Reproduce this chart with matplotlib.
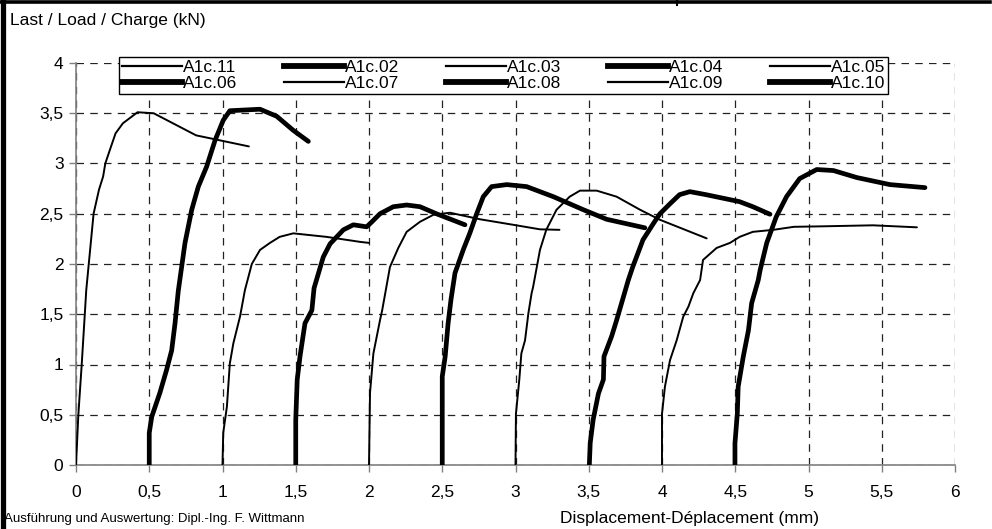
import matplotlib
matplotlib.use("Agg")
import matplotlib.pyplot as plt
from matplotlib.lines import Line2D
from matplotlib.ticker import FuncFormatter

plt.rcParams['font.family'] = ['Liberation Sans', 'DejaVu Sans']

# ---- data (displacement mm, load kN) ----
a1c11_x = [0.0, 0.016, 0.039, 0.06, 0.07, 0.12, 0.157, 0.185, 0.20, 0.23, 0.27, 0.32, 0.42, 0.53, 0.82, 1.18]
a1c11_y = [0.0, 0.50, 1.00, 1.50, 1.74, 2.50, 2.74, 2.87, 3.00, 3.13, 3.30, 3.40, 3.51, 3.50, 3.28, 3.17]

a1c02_x = [0.50, 0.50, 0.517, 0.573, 0.619, 0.653, 0.676, 0.698, 0.744, 0.79, 0.835, 0.892, 0.949, 1.005, 1.05, 1.256, 1.37, 1.483, 1.586]
a1c02_y = [0.0, 0.32, 0.48, 0.72, 0.95, 1.14, 1.41, 1.73, 2.21, 2.54, 2.77, 2.97, 3.23, 3.43, 3.525, 3.54, 3.47, 3.33, 3.22]

a1c03_x = [1.0, 1.005, 1.03, 1.05, 1.074, 1.12, 1.153, 1.20, 1.256, 1.324, 1.39, 1.483, 1.71, 1.94, 2.0]
a1c03_y = [0.0, 0.32, 0.58, 1.01, 1.21, 1.48, 1.74, 2.00, 2.14, 2.21, 2.27, 2.305, 2.27, 2.22, 2.21]

a1c04_x = [1.5, 1.5, 1.51, 1.529, 1.563, 1.61, 1.625, 1.688, 1.734, 1.825, 1.893, 1.984, 2.02, 2.075, 2.166, 2.257, 2.348, 2.46, 2.655]
a1c04_y = [0.0, 0.45, 0.85, 1.08, 1.41, 1.54, 1.76, 2.07, 2.20, 2.34, 2.39, 2.37, 2.42, 2.50, 2.57, 2.587, 2.57, 2.50, 2.39]

a1c05_x = [2.0, 2.007, 2.03, 2.075, 2.09, 2.143, 2.20, 2.257, 2.348, 2.44, 2.553, 2.758, 2.985, 3.167, 3.30]
a1c05_y = [0.0, 0.72, 1.11, 1.44, 1.54, 1.97, 2.16, 2.32, 2.42, 2.49, 2.51, 2.445, 2.39, 2.345, 2.34]

a1c06_x = [2.5, 2.5, 2.52, 2.54, 2.56, 2.587, 2.643, 2.689, 2.735, 2.78, 2.837, 2.94, 3.076, 3.258, 3.463, 3.622, 3.883]
a1c06_y = [0.0, 0.88, 1.08, 1.41, 1.65, 1.91, 2.14, 2.31, 2.50, 2.67, 2.77, 2.79, 2.77, 2.67, 2.54, 2.445, 2.36]

a1c07_x = [3.0, 3.003, 3.026, 3.04, 3.065, 3.088, 3.11, 3.12, 3.167, 3.21, 3.28, 3.37, 3.44, 3.554, 3.69, 3.85, 3.986, 4.305]
a1c07_y = [0.0, 0.51, 0.85, 1.11, 1.24, 1.51, 1.71, 1.77, 2.14, 2.34, 2.54, 2.67, 2.73, 2.73, 2.67, 2.54, 2.44, 2.255]

a1c08_x = [3.504, 3.51, 3.53, 3.566, 3.60, 3.604, 3.656, 3.69, 3.736, 3.77, 3.80, 3.87, 3.94, 3.986, 4.055, 4.12, 4.19, 4.30, 4.53, 4.62, 4.737]
a1c08_y = [0.0, 0.22, 0.45, 0.71, 0.85, 1.08, 1.28, 1.44, 1.67, 1.84, 1.97, 2.24, 2.40, 2.50, 2.60, 2.69, 2.72, 2.69, 2.62, 2.57, 2.495]

a1c09_x = [4.0, 4.0, 4.02, 4.055, 4.10, 4.145, 4.18, 4.214, 4.26, 4.28, 4.373, 4.464, 4.53, 4.62, 4.76, 4.90, 5.10, 5.44, 5.74]
a1c09_y = [0.0, 0.51, 0.78, 1.045, 1.24, 1.476, 1.575, 1.71, 1.84, 2.04, 2.16, 2.21, 2.27, 2.32, 2.34, 2.37, 2.375, 2.385, 2.365]

a1c10_x = [4.498, 4.498, 4.514, 4.52, 4.555, 4.59, 4.612, 4.657, 4.67, 4.715, 4.78, 4.85, 4.94, 5.056, 5.17, 5.33, 5.556, 5.795]
a1c10_y = [0.0, 0.215, 0.51, 0.78, 1.08, 1.34, 1.61, 1.84, 1.94, 2.21, 2.47, 2.67, 2.85, 2.94, 2.93, 2.86, 2.79, 2.76]

labels = ["A1c.11", "A1c.02", "A1c.03", "A1c.04", "A1c.05",
          "A1c.06", "A1c.07", "A1c.08", "A1c.09", "A1c.10"]
xs = [a1c11_x, a1c02_x, a1c03_x, a1c04_x, a1c05_x, a1c06_x, a1c07_x, a1c08_x, a1c09_x, a1c10_x]
ys = [a1c11_y, a1c02_y, a1c03_y, a1c04_y, a1c05_y, a1c06_y, a1c07_y, a1c08_y, a1c09_y, a1c10_y]
thick = [False, True, False, True, False, True, False, True, False, True]

x_ticks = [0, 0.5, 1, 1.5, 2, 2.5, 3, 3.5, 4, 4.5, 5, 5.5, 6]
y_ticks = [0, 0.5, 1, 1.5, 2, 2.5, 3, 3.5, 4]

fig = plt.figure(figsize=(9.92, 5.29), dpi=100)
ax = fig.add_axes([76/992, 64/529, 879/992, 402/529])

for lab, x, y, t in zip(labels, xs, ys, thick):
    ax.plot(x, y, color='black', lw=3.4 if t else 1.4,
            solid_capstyle='round', solid_joinstyle='round', zorder=3)

ax.set_xlim(0, 6)
ax.set_ylim(0, 4)
ax.set_xticks(x_ticks)
ax.set_yticks(y_ticks)
fmt = FuncFormatter(lambda v, p: ('%g' % v).replace('.', ','))
ax.xaxis.set_major_formatter(fmt)
ax.yaxis.set_major_formatter(fmt)
ax.tick_params(axis='both', direction='out', length=5, width=1, color='#808080',
               labelsize=12.5)
ax.tick_params(axis='x', pad=9.5)
ax.tick_params(axis='y', pad=4)

ax.grid(True, color='#222222', linestyle=(0, (6, 5)), linewidth=0.9, zorder=1)
for s in ['top', 'right']:
    ax.spines[s].set_visible(False)
for s in ['left', 'bottom']:
    ax.spines[s].set_color('#808080')
    ax.spines[s].set_linewidth(1.2)

# legend, column-major order to get the row layout of the reference
order = ["A1c.11", "A1c.06", "A1c.02", "A1c.07", "A1c.03",
         "A1c.08", "A1c.04", "A1c.09", "A1c.05", "A1c.10"]
leg_handles = [Line2D([], [], color='black', lw=4.2 if thick[labels.index(l)] else 1.6) for l in order]
leg = ax.legend(leg_handles, order, ncol=5, loc='upper left',
                bbox_to_anchor=(0.049, 0.5, 0.875, 0.515), mode='expand',
                fontsize=12.5, frameon=True, fancybox=False, framealpha=1,
                edgecolor='black', borderpad=0.15, labelspacing=0.08,
                handlelength=3.5, handletextpad=0.05, columnspacing=0.5,
                borderaxespad=0)
leg.get_frame().set_linewidth(1.0)
leg.set_zorder(5)

fig.text(10/992, 1 - 20/529, "Last / Load / Charge (kN)", fontsize=12.5,
         ha='left', va='center')
fig.text(4/992, 1 - 519/529, "Ausführung und Auswertung: Dipl.-Ing. F. Wittmann",
         fontsize=9.5, ha='left', va='center')
fig.text(690/992, 1 - 518/529, "Displacement-Déplacement (mm)", fontsize=12.5,
         ha='center', va='center')

# frame lines of the surrounding sheet
fig.add_artist(Line2D([2.5/992, 2.5/992], [0, 1], color='black', lw=3.8,
                      transform=fig.transFigure))
fig.add_artist(Line2D([0, 990/992], [1 - 1.5/529, 1 - 1.5/529], color='black', lw=2.6,
                      transform=fig.transFigure))
fig.add_artist(Line2D([677/992, 677/992], [1, 1 - 5/529], color='black', lw=1.5,
                      transform=fig.transFigure))

fig.savefig("out.png", dpi=100)
